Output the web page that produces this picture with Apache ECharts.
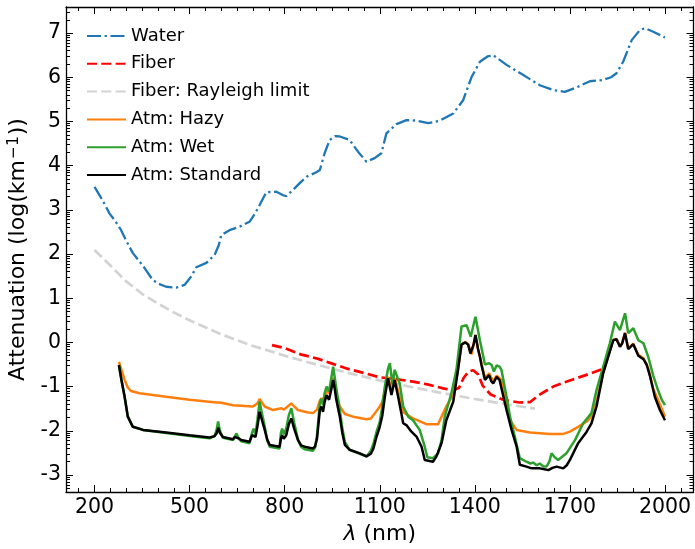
<!DOCTYPE html>
<html>
<head>
<meta charset="utf-8">
<script src="https://cdn.jsdelivr.net/npm/echarts@6/dist/echarts.min.js"></script>
<style>
  html, body { margin: 0; padding: 0; background: #fff; }
  #chart { width: 695px; height: 549px; }
</style>
</head>
<body>
<div id="chart"></div>
<script>
// Wavelengths in nm, attenuation as log10(km^-1)
const waterNm  = [200, 225, 247, 265, 284, 300, 321, 340, 358, 384, 405, 426, 458, 484, 505, 521, 553, 579, 592, 600, 626, 658, 689, 705, 721, 742, 774, 795, 805, 826, 850, 869, 900, 911, 926, 942, 960, 974, 1005, 1032, 1058, 1084, 1105, 1121, 1153, 1184, 1216, 1253, 1290, 1332, 1363, 1390, 1416, 1440, 1458, 1500, 1553, 1605, 1647, 1684, 1721, 1763, 1805, 1830, 1847, 1868, 1895, 1921, 1937, 1963, 2000];
const waterVal = [3.52, 3.22, 2.92, 2.75, 2.54, 2.30, 2.02, 1.85, 1.68, 1.41, 1.32, 1.26, 1.24, 1.30, 1.49, 1.70, 1.80, 1.98, 2.20, 2.43, 2.54, 2.62, 2.73, 2.90, 3.11, 3.40, 3.41, 3.33, 3.31, 3.45, 3.62, 3.75, 3.85, 3.90, 4.28, 4.58, 4.67, 4.66, 4.58, 4.31, 4.09, 4.17, 4.28, 4.73, 4.94, 5.03, 5.02, 4.96, 5.02, 5.18, 5.48, 6.01, 6.35, 6.47, 6.50, 6.28, 6.05, 5.82, 5.71, 5.67, 5.77, 5.91, 5.94, 6.00, 6.09, 6.35, 6.84, 7.07, 7.11, 7.03, 6.90];

const fiberNm  = [760, 800, 850, 900, 950, 1000, 1050, 1100, 1150, 1200, 1250, 1300, 1330, 1350, 1365, 1380, 1395, 1410, 1425, 1450, 1490, 1540, 1575, 1600, 1650, 1700, 1750, 1800];
const fiberVal = [-0.06, -0.13, -0.27, -0.36, -0.48, -0.60, -0.69, -0.79, -0.83, -0.88, -0.95, -1.04, -1.08, -1.03, -0.80, -0.66, -0.63, -0.72, -0.98, -1.18, -1.30, -1.36, -1.35, -1.20, -0.99, -0.86, -0.74, -0.61];

const rayleighNm  = [200, 250, 300, 350, 400, 450, 500, 600, 700, 800, 900, 1000, 1100, 1200, 1300, 1400, 1500, 1590];
const rayleighVal = [2.09, 1.74, 1.38, 1.10, 0.88, 0.68, 0.50, 0.18, -0.08, -0.30, -0.50, -0.69, -0.86, -1.01, -1.15, -1.28, -1.40, -1.50];

const hazyNm  = [277, 285, 295, 305, 315, 342, 426, 500, 584, 590, 596, 637, 700, 714, 721, 728, 737, 763, 790, 797, 805, 821, 830, 842, 870, 889, 902, 911, 916, 921, 932, 940, 953, 963, 974, 990, 1016, 1058, 1072, 1090, 1100, 1108, 1116, 1126, 1137, 1147, 1158, 1174, 1205, 1247, 1284, 1295, 1310, 1332, 1347, 1358, 1363, 1370, 1379, 1390, 1402, 1410, 1421, 1432, 1445, 1458, 1469, 1484, 1500, 1511, 1532, 1574, 1637, 1679, 1700, 1726, 1753, 1768, 1784, 1805, 1821, 1837, 1847, 1858, 1865, 1874, 1884, 1900, 1916, 1932, 1947, 1963, 1984, 2000];
const hazyVal = [-0.44, -0.62, -0.85, -1.02, -1.10, -1.15, -1.23, -1.30, -1.36, -1.32, -1.36, -1.42, -1.45, -1.38, -1.28, -1.36, -1.45, -1.53, -1.49, -1.52, -1.48, -1.38, -1.45, -1.53, -1.58, -1.60, -1.52, -1.32, -1.26, -1.32, -1.10, -1.15, -0.80, -1.18, -1.45, -1.62, -1.68, -1.74, -1.72, -1.55, -1.45, -1.35, -1.08, -0.78, -1.08, -0.80, -1.10, -1.58, -1.72, -1.85, -1.85, -1.68, -1.45, -1.18, -0.60, -0.04, 0.00, 0.01, -0.04, -0.27, 0.17, -0.14, -0.48, -0.80, -0.70, -0.88, -0.75, -0.85, -1.38, -1.76, -1.98, -2.04, -2.07, -2.07, -2.02, -1.91, -1.79, -1.68, -1.34, -0.68, -0.31, 0.06, 0.08, -0.09, -0.01, 0.22, -0.14, -0.03, -0.28, -0.36, -0.58, -1.05, -1.40, -1.68];

const wetNm  = [277, 285, 295, 305, 321, 353, 426, 500, 563, 579, 586, 590, 595, 605, 637, 643, 648, 655, 663, 689, 697, 702, 708, 714, 721, 728, 737, 745, 753, 784, 788, 792, 797, 805, 813, 821, 830, 842, 852, 863, 889, 896, 902, 911, 916, 921, 926, 932, 940, 946, 953, 958, 963, 974, 982, 990, 1005, 1037, 1058, 1072, 1080, 1090, 1100, 1108, 1116, 1126, 1132, 1140, 1147, 1153, 1163, 1174, 1190, 1205, 1226, 1242, 1250, 1268, 1284, 1295, 1305, 1326, 1342, 1358, 1363, 1374, 1387, 1402, 1416, 1432, 1445, 1453, 1460, 1469, 1478, 1484, 1500, 1511, 1526, 1542, 1563, 1575, 1584, 1595, 1605, 1615, 1626, 1635, 1642, 1652, 1663, 1689, 1716, 1742, 1768, 1784, 1805, 1826, 1842, 1858, 1874, 1884, 1900, 1916, 1932, 1947, 1963, 1979, 1990, 2000];
const wetVal = [-0.51, -0.85, -1.23, -1.68, -1.91, -1.98, -2.05, -2.12, -2.17, -2.12, -1.95, -1.79, -1.98, -2.16, -2.21, -2.12, -2.06, -2.18, -2.24, -2.28, -2.05, -1.95, -2.08, -1.75, -1.34, -1.60, -1.90, -2.22, -2.36, -2.40, -2.05, -1.95, -2.08, -1.95, -1.65, -1.49, -1.82, -2.20, -2.36, -2.42, -2.45, -2.38, -2.10, -1.38, -1.28, -1.42, -1.15, -1.00, -1.11, -0.85, -0.55, -0.80, -1.05, -1.53, -1.95, -2.25, -2.43, -2.52, -2.58, -2.45, -2.30, -2.02, -1.80, -1.45, -1.00, -0.60, -0.47, -0.95, -0.62, -0.62, -0.93, -1.45, -1.68, -1.76, -1.98, -2.36, -2.60, -2.62, -2.51, -2.21, -1.68, -1.15, -0.62, 0.36, 0.36, 0.39, 0.13, 0.58, 0.05, -0.50, -0.47, -0.51, -0.66, -0.52, -0.55, -0.62, -1.23, -1.68, -2.13, -2.62, -2.70, -2.74, -2.72, -2.78, -2.74, -2.80, -2.81, -2.70, -2.51, -2.60, -2.66, -2.51, -2.21, -1.83, -1.60, -1.08, -0.55, -0.02, 0.47, 0.28, 0.66, 0.21, 0.32, 0.05, -0.02, -0.32, -0.75, -1.10, -1.30, -1.42];

const standardNm  = [277, 285, 295, 305, 321, 353, 426, 500, 563, 579, 586, 590, 596, 605, 637, 643, 648, 655, 663, 689, 697, 702, 708, 714, 721, 728, 737, 745, 753, 784, 788, 792, 797, 805, 813, 821, 830, 842, 852, 863, 889, 896, 902, 911, 916, 921, 926, 932, 940, 946, 953, 958, 963, 974, 982, 990, 1005, 1037, 1058, 1072, 1080, 1090, 1100, 1108, 1116, 1126, 1137, 1147, 1158, 1168, 1174, 1184, 1200, 1216, 1232, 1242, 1268, 1279, 1295, 1310, 1332, 1347, 1358, 1363, 1370, 1379, 1386, 1390, 1396, 1402, 1410, 1416, 1421, 1432, 1445, 1452, 1458, 1469, 1478, 1484, 1500, 1516, 1532, 1542, 1563, 1575, 1584, 1605, 1620, 1632, 1645, 1658, 1679, 1690, 1700, 1726, 1753, 1768, 1784, 1805, 1821, 1837, 1847, 1858, 1865, 1874, 1884, 1900, 1916, 1932, 1942, 1953, 1968, 1984, 2000];
const standardVal = [-0.51, -0.85, -1.23, -1.68, -1.91, -1.98, -2.04, -2.10, -2.15, -2.12, -2.05, -1.93, -2.05, -2.14, -2.19, -2.14, -2.10, -2.17, -2.21, -2.25, -2.10, -2.06, -2.14, -1.90, -1.57, -1.75, -1.98, -2.20, -2.32, -2.36, -2.18, -2.10, -2.18, -2.10, -1.85, -1.72, -1.95, -2.21, -2.33, -2.36, -2.40, -2.35, -2.18, -1.53, -1.45, -1.57, -1.35, -1.19, -1.30, -1.10, -0.85, -1.05, -1.30, -1.68, -2.05, -2.32, -2.43, -2.51, -2.58, -2.52, -2.40, -2.13, -1.91, -1.66, -1.23, -0.81, -1.19, -0.85, -1.23, -1.60, -1.83, -1.87, -2.02, -2.13, -2.36, -2.66, -2.70, -2.58, -2.28, -1.76, -1.34, -0.62, -0.05, -0.01, 0.00, -0.05, -0.25, -0.29, -0.05, 0.17, -0.15, -0.32, -0.51, -0.85, -0.74, -0.88, -0.93, -0.78, -0.85, -0.89, -1.53, -1.98, -2.36, -2.77, -2.81, -2.84, -2.85, -2.85, -2.87, -2.89, -2.84, -2.81, -2.85, -2.78, -2.66, -2.28, -2.02, -1.83, -1.45, -0.70, -0.32, 0.05, 0.07, -0.10, -0.02, 0.21, -0.15, -0.04, -0.30, -0.38, -0.50, -0.77, -1.23, -1.53, -1.76];

// Tick positions
const xMajorTicks = [200, 500, 800, 1100, 1400, 1700, 2000];
const yMajorTicks = [-3, -2, -1, 0, 1, 2, 3, 4, 5, 6, 7];

const X_MIN = 110, X_MAX = 2090;
const Y_MIN = -3.385, Y_MAX = 7.59;

// minor ticks: every 50 nm on x, log-style subdivisions on y
const xMinorTicks = [];
for (let v = 150; v <= 2050; v += 50) {
  if (xMajorTicks.indexOf(v) < 0) xMinorTicks.push(v);
}
const yMinorTicks = [];
for (let n = -4; n <= 7; n++) {
  for (let k = 2; k <= 9; k++) {
    const v = n + Math.log10(k);
    if (v > Y_MIN && v < Y_MAX) yMinorTicks.push(v);
  }
}

const FONT = 'DejaVu Sans';
const pairs = (xs, ys) => xs.map((x, i) => [x, ys[i]]);
const plain = v => String(Math.round(v));

function axisDef(kind, position, ticks, len, withLine, withLabels) {
  return {
    type: 'value',
    min: kind === 'x' ? X_MIN : Y_MIN,
    max: kind === 'x' ? X_MAX : Y_MAX,
    position: position,
    axisLine: { show: withLine, onZero: false, lineStyle: { color: '#000', width: 1.3 } },
    axisTick: { show: true, inside: true, length: len, customValues: ticks, lineStyle: { color: '#000', width: 1 } },
    axisLabel: withLabels
      ? { show: true, customValues: ticks, formatter: plain, fontSize: 20.5, fontFamily: FONT, color: '#000', margin: 5 }
      : { show: false },
    splitLine: { show: false }
  };
}

const xAxes = [
  axisDef('x', 'bottom', xMajorTicks, 7, true, true),
  axisDef('x', 'bottom', xMinorTicks, 4, false, false),
  axisDef('x', 'top', xMajorTicks, 7, true, false),
  axisDef('x', 'top', xMinorTicks, 4, false, false)
];
xAxes[0].name = '{i|λ} (nm)';
xAxes[0].nameLocation = 'middle';
xAxes[0].nameGap = 29;
xAxes[0].nameTextStyle = {
  fontSize: 22, fontFamily: FONT, color: '#000',
  rich: { i: { fontSize: 22, fontFamily: FONT, fontStyle: 'italic', color: '#000' } }
};

const yAxes = [
  axisDef('y', 'left', yMajorTicks, 7, true, true),
  axisDef('y', 'left', yMinorTicks, 4, false, false),
  axisDef('y', 'right', yMajorTicks, 7, true, false),
  axisDef('y', 'right', yMinorTicks, 4, false, false)
];
yAxes[0].name = '{t|Attenuation (log(km}{s|−1}{t|))}';
yAxes[0].nameLocation = 'middle';
yAxes[0].nameRotate = 90;
yAxes[0].nameGap = 29;
yAxes[0].nameTextStyle = {
  fontSize: 22, fontFamily: FONT, color: '#000',
  rich: {
    t: { fontSize: 22, fontFamily: FONT, color: '#000', lineHeight: 25 },
    s: { fontSize: 15.5, fontFamily: FONT, color: '#000', verticalAlign: 'top', lineHeight: 17, padding: [0, 1, 0, 1] }
  }
};

function lineSeries(name, nm, val, color, width, dash) {
  return {
    name: name, type: 'line', xAxisIndex: 0, yAxisIndex: 0,
    data: pairs(nm, val),
    showSymbol: false, symbol: 'none', smooth: false,
    lineStyle: { color: color, width: width, type: dash || 'solid', cap: 'butt' },
    itemStyle: { color: color },
    emphasis: { disabled: true },
    animation: false
  };
}

const chart = echarts.init(document.getElementById('chart'), null, { renderer: 'canvas' });
chart.setOption({
  animation: false,
  backgroundColor: '#fff',
  grid: { left: 66, right: 1.5, top: 7, bottom: 57, containLabel: false, outerBoundsMode: 'none' },
  xAxis: xAxes,
  yAxis: yAxes,
  legend: {
    orient: 'vertical', left: 86, top: 27, padding: 0,
    itemWidth: 39, itemHeight: 14, itemGap: 9.8,
    itemStyle: { opacity: 0, borderWidth: 0 },
    textStyle: { fontSize: 18, fontFamily: FONT, color: '#000', lineHeight: 18 },
    data: ['Water', 'Fiber', 'Fiber: Rayleigh limit', 'Atm: Hazy', 'Atm: Wet', 'Atm: Standard'],
    selectedMode: false
  },
  series: [
    lineSeries('Water', waterNm, waterVal, '#1f77b4', 2.3, [14, 3.6, 2.3, 3.6]),
    lineSeries('Fiber', fiberNm, fiberVal, '#ff0000', 2.7, [10, 4.3]),
    lineSeries('Fiber: Rayleigh limit', rayleighNm, rayleighVal, '#d3d3d3', 2.7, [10, 4.3]),
    lineSeries('Atm: Hazy', hazyNm, hazyVal, '#ff7f0e', 2.5),
    lineSeries('Atm: Wet', wetNm, wetVal, '#2ca02c', 2.5),
    lineSeries('Atm: Standard', standardNm, standardVal, '#000000', 2.5)
  ]
});
</script>
</body>
</html>
